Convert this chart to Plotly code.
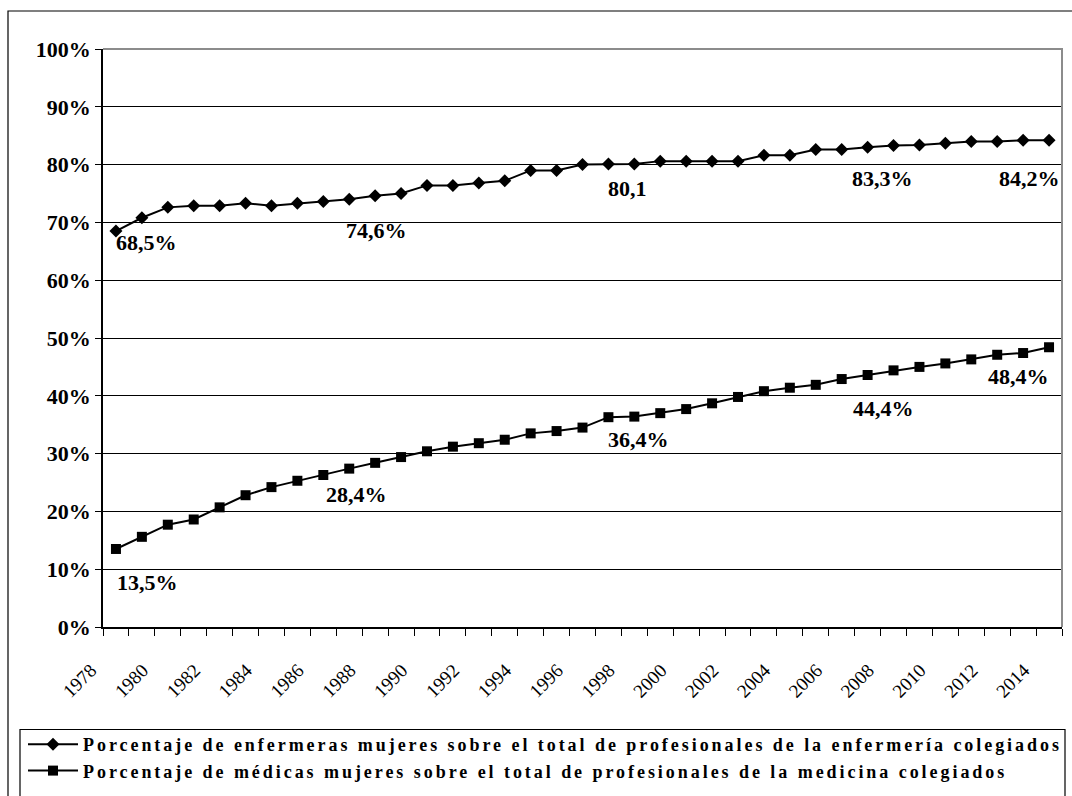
import plotly.graph_objects as go

years = list(range(1978, 2015))
enfermeras = [68.5, 70.8, 72.6, 72.9, 72.9, 73.3, 72.9, 73.3, 73.6, 74.0,
              74.6, 75.0, 76.4, 76.4, 76.8, 77.2, 79.0, 79.0, 80.0, 80.1,
              80.1, 80.6, 80.6, 80.6, 80.6, 81.6, 81.6, 82.6, 82.6, 83.0,
              83.3, 83.4, 83.7, 84.0, 84.0, 84.2, 84.2]
medicas = [13.5, 15.6, 17.7, 18.6, 20.7, 22.8, 24.2, 25.3, 26.3, 27.4,
           28.4, 29.4, 30.4, 31.2, 31.8, 32.4, 33.5, 33.9, 34.5, 36.3,
           36.4, 37.0, 37.7, 38.7, 39.8, 40.8, 41.4, 41.9, 42.9, 43.6,
           44.4, 45.0, 45.6, 46.3, 47.1, 47.4, 48.4]
name_enf = "Porcentaje de enfermeras mujeres sobre el total de profesionales de la enfermería colegiados"
name_med = "Porcentaje de médicas mujeres sobre el total de profesionales de la medicina colegiados"
xtick_years = list(range(1978, 2015, 2))
ytick_vals = list(range(0, 101, 10))

# data labels: (series, year, text)
labels = [("enf", 1978, "68,5%"), ("enf", 1988, "74,6%"), ("enf", 1998, "80,1"),
          ("enf", 2008, "83,3%"), ("enf", 2014, "84,2%"),
          ("med", 1978, "13,5%"), ("med", 1988, "28,4%"), ("med", 1998, "36,4%"),
          ("med", 2008, "44,4%"), ("med", 2014, "48,4%")]
label_shifts = [(31, -11), (1, -35), (-7, -24), (-11, -33), (-20, -38),
                (32, -34), (-19, -32), (4, -23), (-10, -38), (-31, -29)]

FONT = "Liberation Serif, Times New Roman, serif"

fig = go.Figure()
fig.add_trace(go.Scatter(x=years, y=enfermeras, name=name_enf, mode="lines+markers",
                         line=dict(color="black", width=2),
                         marker=dict(symbol="diamond", size=10, color="black")))
fig.add_trace(go.Scatter(x=years, y=medicas, name=name_med, mode="lines+markers",
                         line=dict(color="black", width=2),
                         marker=dict(symbol="square", size=10, color="black")))

series = {"enf": enfermeras, "med": medicas}
for (s, yr, txt), (dx, dy) in zip(labels, label_shifts):
    fig.add_annotation(x=yr, y=series[s][years.index(yr)], text=txt, showarrow=False,
                       xanchor="center", yanchor="middle", xshift=dx, yshift=dy,
                       font=dict(family=FONT, size=22, color="black", weight="bold"))

# the page margin is removed in the post script, so the figure fills the window
W, H = 1072, 796
L, T = 103, 49
R = W - 1062
B = H - 627
pw, ph = W - L - R, H - T - B

def px(x):
    return (x - L) / pw

def py(y):
    return (H - B - y) / ph

shapes = [
    # outer chart border
    dict(type="rect", xref="paper", yref="paper", x0=px(8), x1=px(1100), y0=py(830), y1=py(11),
         line=dict(color="black", width=1.2), layer="below"),
    # plot area top/right border (gray)
    dict(type="path", xref="paper", yref="paper", path="M 0 1 L 1 1 L 1 0",
         line=dict(color="#8c8c8c", width=2), layer="above"),
    # legend box
    dict(type="rect", xref="paper", yref="paper", x0=px(20), x1=px(1065), y0=py(830), y1=py(729.5),
         line=dict(color="black", width=1.2), layer="below"),
]

fig.update_layout(
    width=W, height=H,
    margin=dict(l=L, r=R, t=T, b=B, autoexpand=False),
    paper_bgcolor="white", plot_bgcolor="white",
    shapes=shapes,
    showlegend=True,
    legend=dict(xref="container", yref="container", x=23 / W, y=1 - 726 / H,
                xanchor="left", yanchor="top",
                bgcolor="rgba(0,0,0,0)", borderwidth=0, itemwidth=50,
                tracegroupgap=0,
                font=dict(family=FONT, size=18, color="black", weight="bold")),
    xaxis=dict(range=[1977.5, 2014.5], tickmode="array", tickvals=xtick_years,
               ticktext=[str(y) for y in xtick_years], tickangle=-45, ticks="",
               tickfont=dict(family=FONT, size=19, color="black"),
               showgrid=False, zeroline=False, showline=True, linecolor="black", linewidth=1.5,
               ticklabelshift=-25, ticklabelstandoff=23, automargin=False,
               minor=dict(tickmode="linear", tick0=1977.5, dtick=1, ticks="outside",
                          ticklen=7, tickwidth=1, tickcolor="black", showgrid=False)),
    yaxis=dict(range=[0, 100], tickmode="array", tickvals=ytick_vals,
               ticktext=[f"{v}%" for v in ytick_vals],
               ticks="outside", ticklen=6, tickwidth=1, tickcolor="black",
               tickfont=dict(family=FONT, size=22, color="black", weight="bold"),
               showgrid=True, gridcolor="black", gridwidth=1, automargin=False,
               zeroline=False, showline=True, linecolor="black", linewidth=1.5),
)

post = """
var gd = document.getElementById('{plot_id}');
document.documentElement.style.margin = '0';
document.documentElement.style.overflow = 'hidden';
document.body.style.margin = '0';
document.body.style.overflow = 'hidden';
document.body.style.height = '796px';
if (gd.parentElement) {
  gd.parentElement.style.height = '796px';
  gd.parentElement.style.overflow = 'hidden';
}
function ls(){
  var ts = gd.querySelectorAll('.legendtext');
  for (var i = 0; i < ts.length; i++) { ts[i].setAttribute('letter-spacing', '2.95px'); }
  var cs = gd.querySelectorAll('.legend, .legend .scrollbox');
  for (var j = 0; j < cs.length; j++) { cs[j].removeAttribute('clip-path'); }
}
ls();
if (gd.on) { gd.on('plotly_afterplot', ls); }
"""

fig.write_html("out.html", post_script=post, config={"displayModeBar": False})
